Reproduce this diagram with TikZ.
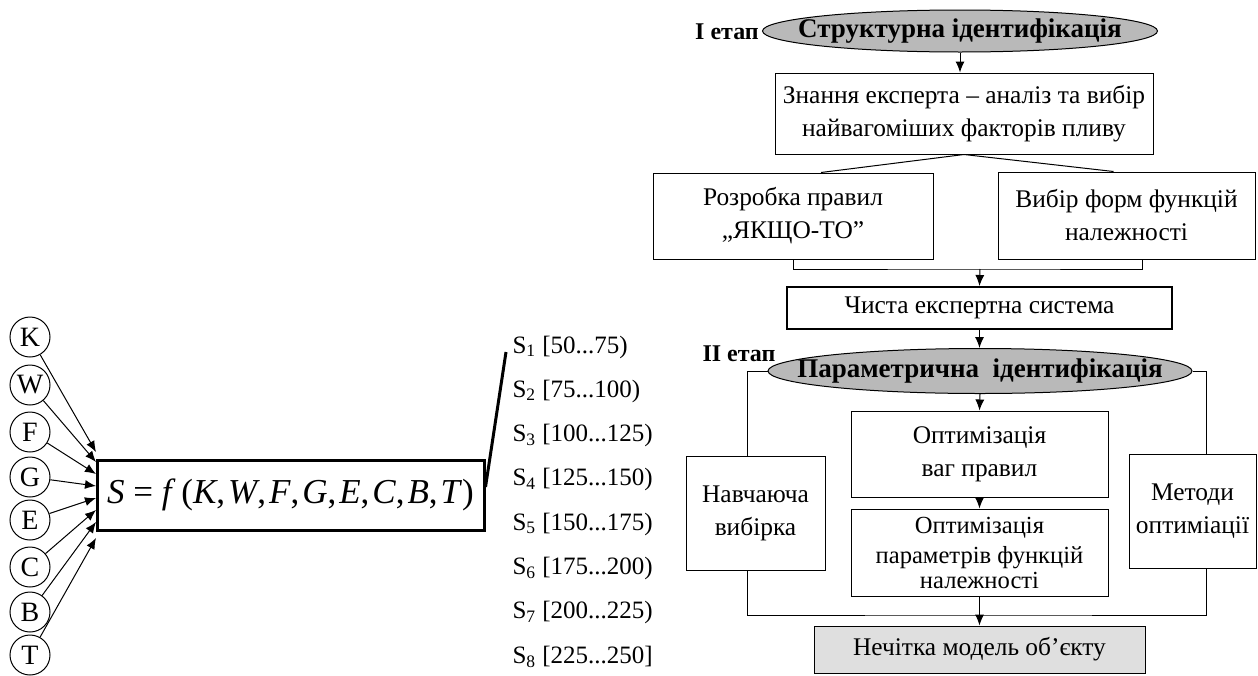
\documentclass[tikz,border=0pt]{standalone}
\usepackage{fontspec}
\setmainfont{Liberation Serif}
\usetikzlibrary{arrows.meta,shapes.geometric}

\begin{document}
\begin{tikzpicture}[x=0.5pt,y=-0.5pt,line width=0.5pt,
    box/.style={draw, align=center, inner sep=0pt, font=\fontsize{12.7}{16.5}\selectfont},
    oval/.style={ellipse, draw, fill=gray!55, inner sep=0pt},
    ovaltext/.style={font=\fontsize{13.5}{16}\selectfont\bfseries, inner sep=0pt},
    var/.style={circle, draw, minimum size=20pt, inner sep=0pt, font=\fontsize{14}{16}\selectfont},
    arr/.style={-{Latex[length=5.5pt,width=4.5pt]}}]
  \useasboundingbox (0,0) rectangle (1258,675);
  % left part
  \node[draw, line width=1.5pt, minimum width=193.5pt, minimum height=35pt, inner sep=0pt,
        font=\fontsize{17.5}{20}\selectfont] (fbox) at (290.5,495)
    {\textit{S} = \textit{f}\,(\textit{K},\kern1.5pt\textit{W},\kern1.5pt\textit{F},\kern1.5pt\textit{G},\kern1.5pt\textit{E},\kern1.5pt\textit{C},\kern1.5pt\textit{B},\kern1.5pt\textit{T})};
  \foreach \v/\yy/\tip in {K/337/452,W/385/462,F/432/474,G/477/486,E/520/498,C/567/510,B/612/522,T/655/538}{
    \node[var] (\v) at (30,\yy) {\v};
    \coordinate (tip\v) at (96,\tip);
    \draw[arr] (\v) -- (tip\v);
  }
  \foreach \i/\rng [count=\k from 0] in {1/{[50...75)},2/{[75...100)},3/{[100...125)},4/{[125...150)},
      5/{[150...175)},6/{[175...200)},7/{[200...225)},8/{[225...250]}}{
    \node[anchor=west, inner sep=0pt, font=\fontsize{12.5}{15}\selectfont] (s\i) at (512,{347+44.3*\k})
      {S\textsubscript{\i} \rng};
  }
  \draw[line width=1.5pt] ([yshift=4pt]fbox.east) -- ([xshift=-3pt,yshift=-2.5pt]s1.west);
  % right part, stage I
  \node[font=\fontsize{12}{14}\selectfont\bfseries] (st1) at (727,32) {I етап};
  \node[oval, minimum width=197.5pt, minimum height=21pt] (ell1) at (960,31) {};
  \node[ovaltext] (ell1txt) at (ell1.center) {Структурна ідентифікація};
  \node[box, minimum width=189pt, minimum height=40.5pt] (know) at (964,113.5)
    {Знання експерта – аналіз та вибір\\найвагоміших факторів пливу};
  \node[box, minimum width=140pt, minimum height=43pt] (rules) at (793,216)
    {Розробка правил\\„ЯКЩО-ТО”};
  \node[box, minimum width=128.5pt, minimum height=43.5pt] (forms) at (1126.5,215.5)
    {Вибір форм функцій\\належності};
  \node[box, line width=1pt, minimum width=192.5pt, minimum height=21pt] (pure) at (979.5,308)
    {Чиста експертна система};
  \coordinate (join1) at (980,269);
  \draw[arr] (ell1.south) -- (ell1.south |- know.north);
  \draw (know.south) -- ([xshift=14pt]rules.north);
  \draw (know.south) -- ([xshift=-6.5pt]forms.north);
  \draw (rules.south) |- (join1) -| ([xshift=8pt]forms.south);
  \draw[arr] (join1) -- (pure.north);
  % stage II
  \node[font=\fontsize{12}{14}\selectfont\bfseries] (st2) at (739,354) {II етап};
  \node[oval, minimum width=212pt, minimum height=22.5pt] (ell2) at (980,371) {};
  \node[ovaltext] (ell2txt) at (ell2.center) {Параметрична~ ідентифікація};
  \node[box, minimum width=69.5pt, minimum height=57pt] (train) at (755.5,513) {Навчаюча\\вибірка};
  \node[box, minimum width=128.5pt, minimum height=43pt] (opt1) at (979.5,454) {Оптимізація\\ваг правил};
  \node[box, minimum width=128.5pt, minimum height=43.5pt] (opt2) at (979.5,552.5) {};
  \node[box, draw=none, font=\fontsize{12.3}{15}\selectfont] (opt2txt) at (979.5,553)
    {Оптимізація\\параметрів функцій\\[-2.5pt]належності};
  \node[box, minimum width=63.5pt, minimum height=57pt] (meth) at (1192.5,511) {Методи\\оптиміації};
  \node[box, fill=gray!25, minimum width=165.5pt, minimum height=23.5pt] (fuzzy) at (979.5,649.5)
    {Нечітка модель об’єкту};
  \coordinate (join2) at (980,615);
  \draw[arr] (pure.south) -- (pure.south |- ell2.north);
  \draw[arr] (ell2.south) -- (opt1.north);
  \draw[arr] (opt1.south) -- (opt2.north);
  \draw (ell2.west) -| ([xshift=-4pt]train.north);
  \draw (ell2.east) -| ([xshift=7pt]meth.north);
  \draw ([xshift=-4pt]train.south) |- (join2) -| ([xshift=7pt]meth.south);
  \draw[arr] (opt2.south) -- (fuzzy.north);
\end{tikzpicture}
\end{document}
